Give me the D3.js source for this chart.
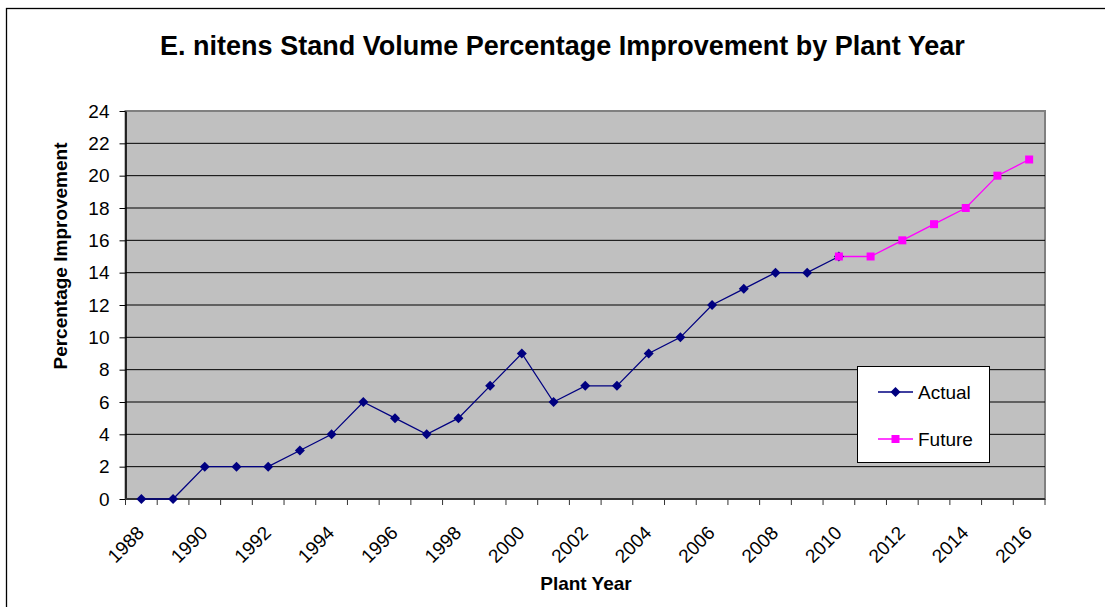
<!DOCTYPE html>
<html>
<head>
<meta charset="utf-8">
<script src="https://cdn.jsdelivr.net/npm/d3@7"></script>
<style>
  html, body { margin: 0; padding: 0; background: #fff; }
  svg { display: block; font-family: "Liberation Sans", Arial, sans-serif; }
</style>
</head>
<body>
<svg id="chart" width="1105" height="607"></svg>
<script>
// ---- data ----
const years = [1988,1989,1990,1991,1992,1993,1994,1995,1996,1997,1998,1999,2000,2001,2002,2003,2004,2005,2006,2007,2008,2009,2010,2011,2012,2013,2014,2015,2016];
const actualYears = [1988,1989,1990,1991,1992,1993,1994,1995,1996,1997,1998,1999,2000,2001,2002,2003,2004,2005,2006,2007,2008,2009,2010];
const actualValues = [0,0,2,2,2,3,4,6,5,4,5,7,9,6,7,7,9,10,12,13,14,14,15];
const futureYears = [2010,2011,2012,2013,2014,2015,2016];
const futureValues = [15,15,16,17,18,20,21];
const xTickLabels = [1988,1990,1992,1994,1996,1998,2000,2002,2004,2006,2008,2010,2012,2014,2016];
const yTicks = [0,2,4,6,8,10,12,14,16,18,20,22,24];
const titleText = "E. nitens Stand Volume Percentage Improvement by Plant Year";
const xTitle = "Plant Year";
const yTitle = "Percentage Improvement";
const seriesNames = ["Actual", "Future"];

// ---- layout ----
const svg = d3.select("#chart");
const L = 125.5, R = 1045, T = 111, B = 499;

const x = d3.scaleBand().domain(years).range([L, R]).padding(0);
const y = d3.scaleLinear().domain([0, 24]).range([B, T]);
const cx = d => x(d) + x.bandwidth() / 2;

// outer chart border
svg.append("rect").attr("x", 6.5).attr("y", 8.5).attr("width", 1200).attr("height", 700)
  .attr("fill", "#fff").attr("stroke", "#000").attr("stroke-width", 1.3);

// title
svg.append("text").attr("x", 562.5).attr("y", 55).attr("text-anchor", "middle")
  .attr("font-size", 27).attr("font-weight", "bold").attr("fill", "#000").text(titleText);

// plot area
svg.append("rect").attr("x", L).attr("y", T).attr("width", R - L).attr("height", B - T)
  .attr("fill", "#C0C0C0").attr("stroke", "#808080").attr("stroke-width", 2);

// gridlines
svg.append("g").selectAll("line").data(yTicks.filter(v => v > 0 && v < 24)).join("line")
  .attr("x1", L).attr("x2", R).attr("y1", d => y(d)).attr("y2", d => y(d))
  .attr("stroke", "#000").attr("stroke-width", 1);

// y axis
const yAxis = svg.append("g").attr("transform", `translate(${L},0)`)
  .call(d3.axisLeft(y).tickValues(yTicks).tickSize(6).tickPadding(10).tickSizeOuter(0));
yAxis.select(".domain").attr("stroke", "#000").attr("stroke-width", 1.5);
yAxis.selectAll(".tick line").attr("stroke", "#000");
yAxis.selectAll("text").attr("font-size", 19).attr("fill", "#000")
  .attr("font-family", "Liberation Sans, Arial, sans-serif");

// x axis (ticks at category boundaries)
const boundaries = years.map(d => x(d)).concat([R]);
const xg = svg.append("g");
xg.append("line").attr("x1", L).attr("x2", R).attr("y1", B).attr("y2", B)
  .attr("stroke", "#333").attr("stroke-width", 2);
xg.selectAll("line.tk").data(boundaries).join("line").attr("class", "tk")
  .attr("x1", d => d).attr("x2", d => d).attr("y1", B).attr("y2", B + 6)
  .attr("stroke", "#333").attr("stroke-width", 1);
xg.selectAll("text").data(xTickLabels).join("text")
  .attr("text-anchor", "end")
  .attr("transform", d => `translate(${cx(d) + 4},${B + 35}) rotate(-45)`)
  .attr("font-size", 19).attr("fill", "#000").text(d => d);

// axis titles
svg.append("text").attr("x", 586).attr("y", 590).attr("text-anchor", "middle")
  .attr("font-size", 19).attr("font-weight", "bold").text(xTitle);
svg.append("text").attr("transform", "translate(67,256) rotate(-90)").attr("text-anchor", "middle")
  .attr("font-size", 19).attr("font-weight", "bold").text(yTitle);

// series
const line = d3.line().x(d => cx(d[0])).y(d => y(d[1]));
const actual = actualYears.map((yr, i) => [yr, actualValues[i]]);
const future = futureYears.map((yr, i) => [yr, futureValues[i]]);

svg.append("path").datum(actual).attr("d", line).attr("fill", "none")
  .attr("stroke", "#000080").attr("stroke-width", 1.3);
svg.append("path").datum(future).attr("d", line).attr("fill", "none")
  .attr("stroke", "#FF00FF").attr("stroke-width", 1.3);

const diamond = "M0,-5L5,0L0,5L-5,0Z";
svg.append("g").selectAll("path").data(actual).join("path")
  .attr("transform", d => `translate(${cx(d[0])},${y(d[1])})`)
  .attr("d", diamond).attr("fill", "#000080");
svg.append("g").selectAll("rect").data(future).join("rect")
  .attr("x", d => cx(d[0]) - 4).attr("y", d => y(d[1]) - 4)
  .attr("width", 8).attr("height", 8).attr("fill", "#FF00FF");

// legend
const lg = svg.append("g");
lg.append("rect").attr("x", 857.5).attr("y", 366.5).attr("width", 132).attr("height", 96)
  .attr("fill", "#fff").attr("stroke", "#000").attr("stroke-width", 1);
const legendItems = [
  { name: seriesNames[0], color: "#000080", yy: 392, shape: "diamond" },
  { name: seriesNames[1], color: "#FF00FF", yy: 439, shape: "square" }
];
legendItems.forEach(it => {
  lg.append("line").attr("x1", 878).attr("x2", 913).attr("y1", it.yy).attr("y2", it.yy)
    .attr("stroke", it.color).attr("stroke-width", 1.3);
  if (it.shape === "diamond") {
    lg.append("path").attr("transform", `translate(895.5,${it.yy})`).attr("d", diamond).attr("fill", it.color);
  } else {
    lg.append("rect").attr("x", 891.5).attr("y", it.yy - 4).attr("width", 8).attr("height", 8).attr("fill", it.color);
  }
  lg.append("text").attr("x", 918).attr("y", it.yy + 7).attr("font-size", 19).attr("fill", "#000").text(it.name);
});
</script>
</body>
</html>
